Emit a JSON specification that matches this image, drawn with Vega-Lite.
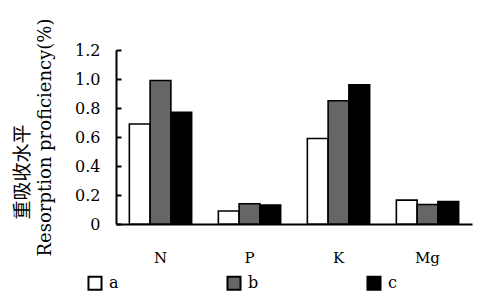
{
  "$schema": "https://vega.github.io/schema/vega-lite/v6.json",
  "autosize": "none",
  "width": 356,
  "height": 174,
  "padding": {"left": 116, "top": 50, "right": 6, "bottom": 80},
  "background": "white",
  "title": {"text": "重吸收水平", "orient": "left", "font": "Noto Sans CJK SC", "fontSize": 19, "fontWeight": "normal", "color": "black", "anchor": "middle", "dx": -35, "offset": 4},
  "data": {"values": [
    {"element": "N", "group": "a", "value": 0.69},
    {"element": "N", "group": "b", "value": 0.99},
    {"element": "N", "group": "c", "value": 0.77},
    {"element": "P", "group": "a", "value": 0.09},
    {"element": "P", "group": "b", "value": 0.14},
    {"element": "P", "group": "c", "value": 0.13},
    {"element": "K", "group": "a", "value": 0.59},
    {"element": "K", "group": "b", "value": 0.85},
    {"element": "K", "group": "c", "value": 0.96},
    {"element": "Mg", "group": "a", "value": 0.165},
    {"element": "Mg", "group": "b", "value": 0.135},
    {"element": "Mg", "group": "c", "value": 0.155}
  ]},
  "mark": {"type": "bar", "stroke": "black", "strokeWidth": 1.6},
  "encoding": {
    "x": {"field": "element", "type": "nominal", "sort": ["N", "P", "K", "Mg"],
      "scale": {"paddingInner": 0.3, "paddingOuter": 0.15},
      "axis": {"title": null, "labelAngle": 0, "ticks": false, "labelPadding": 26, "labelFont": "DejaVu Serif", "labelFontSize": 15, "labelColor": "black", "domainColor": "black", "domainWidth": 2}},
    "xOffset": {"field": "group", "type": "nominal", "scale": {"paddingInner": 0, "paddingOuter": 0}},
    "y": {"field": "value", "type": "quantitative",
      "scale": {"domain": [0, 1.2], "nice": false},
      "axis": {"title": "Resorption proficiency(%)", "titleFont": "DejaVu Serif", "titleFontSize": 18, "titleFontWeight": "normal", "titleColor": "black", "titlePadding": 20,
        "values": [0, 0.2, 0.4, 0.6, 0.8, 1.0, 1.2],
        "labelExpr": "datum.value == 0 ? '0' : format(datum.value, '.1f')",
        "grid": false, "tickSize": -5, "tickColor": "black", "tickWidth": 2, "labelPadding": 21,
        "labelFont": "DejaVu Serif", "labelFontSize": 16, "labelColor": "black", "domainColor": "black", "domainWidth": 2}},
    "fill": {"field": "group", "type": "nominal",
      "scale": {"domain": ["a", "b", "c"], "range": ["white", "#666666", "black"]},
      "legend": {"title": null, "orient": "none", "legendX": -29, "legendY": 225, "direction": "horizontal", "columns": 3, "columnPadding": 104,
        "symbolType": "square", "symbolSize": 170, "symbolStrokeColor": "black", "symbolStrokeWidth": 2, "labelOffset": 6,
        "labelFont": "DejaVu Serif", "labelFontSize": 16, "labelColor": "black"}}
  },
  "config": {"view": {"stroke": null}}
}
